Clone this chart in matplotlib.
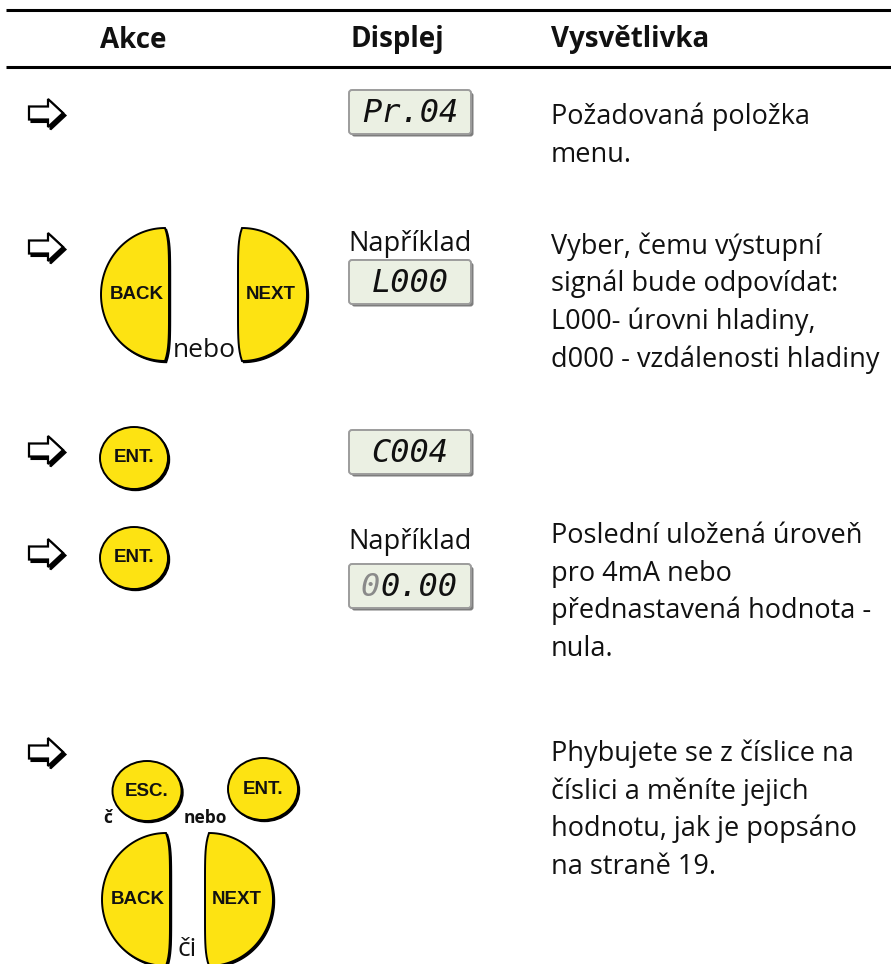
"""
Tabulka: nastaveni vystupniho signalu (Akce / Displej / Vysvetlivka).
"""
import numpy as np
import matplotlib
matplotlib.use("Agg")
import matplotlib.pyplot as plt
from matplotlib.patches import Polygon, Ellipse, FancyBboxPatch

# ======================================================================
# data (texty)
HEADERS = ["Akce", "Displej", "Vysvětlivka"]
DISPLAY_TEXT = ["Pr.04", "L000", "C004", "00.00", None]
DISPLAY_NOTE = [None, "Například", None, "Například", None]
EXPLAIN = [
    ["Požadovaná položka", "menu."],
    ["Vyber, čemu výstupní", "signál bude odpovídat:",
     "L000- úrovni hladiny,", "d000 - vzdálenosti hladiny"],
    [],
    ["Poslední uložená úroveň", "pro 4mA nebo",
     "přednastavená hodnota -", "nula."],
    ["Phybujete se z číslice na", "číslici a měníte jejich",
     "hodnotu, jak je popsáno", "na straně 19."],
]
# ======================================================================

# layout (pixely, y dolu)
W, H = 891, 964
ROW_ARROW_Y = [113, 247, 450, 553, 752]
ROW_TEXT_Y = [124, 254, None, 543, 761]       # baseline prvniho radku
LINE_H = 37.5
BOX_TOP = [90, 260, 430, 564, None]
BOX_X0, BOX_X1, BOX_H = 349, 471, 44
TEXT_X = 551
YELLOW = "#FDE312"

BODY = dict(family=["Open Sans", "DejaVu Sans"], fontsize=19.5, color="#111111")
KEYF = dict(family=["Liberation Sans", "DejaVu Sans"], fontsize=13.5,
            fontweight="bold", color="#111111")

fig = plt.figure(figsize=(W / 100, H / 100), dpi=100)
ax = fig.add_axes([0, 0, 1, 1])
ax.set_xlim(0, W)
ax.set_ylim(H, 0)
ax.axis("off")


def arrow(yc):
    pts = np.array([[29, -6.5], [48, -6.5], [48, -14], [63, 0],
                    [48, 14], [48, 6.5], [29, 6.5]], dtype=float)
    pts[:, 1] += yc
    shadow = pts + [2.5, 2.5]
    ax.add_patch(Polygon(shadow, closed=True, fc="black", ec="black", lw=1.5))
    ax.add_patch(Polygon(pts, closed=True, fc="white", ec="black", lw=1.6,
                         joinstyle="miter"))


def round_key(xc, yc, label, w=68, h=62):
    ax.add_patch(Ellipse((xc + 1.5, yc + 1.5), w, h, fc="black", ec="black", lw=1))
    ax.add_patch(Ellipse((xc, yc), w, h, fc=YELLOW, ec="black", lw=1.4))
    ax.text(xc, yc, label, ha="center", va="center", **KEYF)


def half_key(x0, x1, y0, y1, label, flat_right=True):
    # pulelipsa s rovnou stranou a zakulacenymi rohy
    b = (y1 - y0) / 2
    yc = (y0 + y1) / 2
    a = (x1 - x0) - 4
    t = np.linspace(np.pi / 2, 3 * np.pi / 2, 80)
    if flat_right:
        xe = x1 - 4
        arc = np.c_[xe + a * np.cos(t), yc - b * np.sin(t)]
    else:
        xe = x0 + 4
        arc = np.c_[xe - a * np.cos(t), yc - b * np.sin(t)]
    s = np.linspace(1, -1, 30)
    bulge = 4 * (1 - s ** 6)
    if flat_right:
        edge = np.c_[xe + bulge, yc + b * s]
    else:
        edge = np.c_[xe - bulge, yc + b * s]
    pts = np.vstack([arc, edge])
    ax.add_patch(Polygon(pts + [1.5, 1.5], closed=True, fc="black", ec="black", lw=1))
    ax.add_patch(Polygon(pts, closed=True, fc=YELLOW, ec="black", lw=1.4))
    ax.text((x0 + x1) / 2 + (2 if flat_right else -2), yc, label,
            ha="center", va="center", **KEYF)


def display(y0, txt):
    ax.add_patch(FancyBboxPatch((BOX_X0 + 2.5, y0 + 2.5), BOX_X1 - BOX_X0, BOX_H,
                                boxstyle="round,pad=0,rounding_size=3",
                                fc="#7d7d7d", ec="none"))
    ax.add_patch(FancyBboxPatch((BOX_X0, y0), BOX_X1 - BOX_X0, BOX_H,
                                boxstyle="round,pad=0,rounding_size=3",
                                fc="#EBF0E3", ec="#9c9c9c", lw=1.4))
    seg = dict(family="DejaVu Sans Mono", fontsize=23, style="oblique",
               va="center")
    xm = (BOX_X0 + BOX_X1) / 2
    ym = y0 + BOX_H / 2 + 1
    if txt == "00.00":
        ax.text(xm - 30, ym, "0", ha="right", color="#8a8a8a", **seg)
        ax.text(xm - 30, ym, "0.00", ha="left", color="#111111", **seg)
    else:
        ax.text(xm, ym, txt, ha="center", color="#111111", **seg)


# linky a hlavicka
ax.plot([6, W], [10, 10], color="black", lw=2.2, solid_capstyle="butt")
ax.plot([6, W], [67, 67], color="black", lw=2.2, solid_capstyle="butt")
hdr = dict(BODY, fontsize=20, fontweight="bold")
ax.text(133, 40, HEADERS[0], ha="center", va="center", **hdr)
ax.text(397, 40, HEADERS[1], ha="center", va="center", **hdr)
ax.text(TEXT_X, 40, HEADERS[2], ha="left", va="center", **hdr)

# radky
for i in range(5):
    arrow(ROW_ARROW_Y[i])
    if DISPLAY_TEXT[i] is not None:
        display(BOX_TOP[i], DISPLAY_TEXT[i])
    if DISPLAY_NOTE[i] is not None:
        ax.text((BOX_X0 + BOX_X1) / 2, BOX_TOP[i] - 15 if i == 3 else BOX_TOP[i] - 9,
                DISPLAY_NOTE[i], ha="center", va="baseline", **BODY)
    for k, line in enumerate(EXPLAIN[i]):
        ax.text(TEXT_X, ROW_TEXT_Y[i] + k * LINE_H, line,
                ha="left", va="baseline", **BODY)

# tlacitka
half_key(101, 169, 228, 361, "BACK", flat_right=True)
half_key(238, 307, 228, 361, "NEXT", flat_right=False)
ax.text(204, 357, "nebo", ha="center", va="baseline", **dict(BODY, fontsize=19))

round_key(134, 458, "ENT.")
round_key(134, 558, "ENT.")

round_key(147, 791, "ESC.", w=69, h=60)
round_key(263, 789, "ENT.", w=70, h=62)
small = dict(BODY, fontsize=12.5, fontweight="bold")
ax.text(108, 823, "č", ha="center", va="baseline", **small)
ax.text(205, 823, "nebo", ha="center", va="baseline", **small)
half_key(102, 170, 833, 966, "BACK", flat_right=True)
half_key(205, 273, 833, 966, "NEXT", flat_right=False)
ax.text(187, 956, "či", ha="center", va="baseline", **dict(BODY, fontsize=19))

fig.savefig("out.png", dpi=100)
